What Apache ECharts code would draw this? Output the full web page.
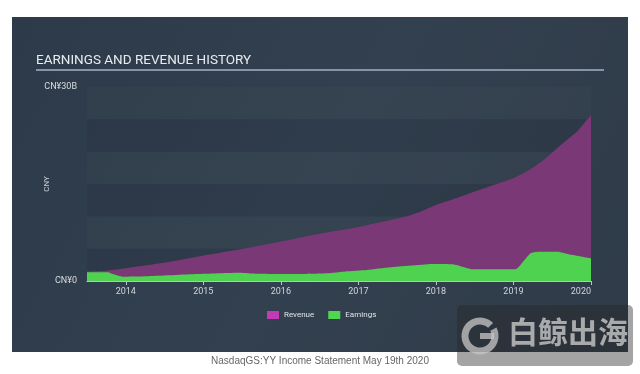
<!DOCTYPE html>
<html>
<head>
<meta charset="utf-8">
<script src="https://cdn.jsdelivr.net/npm/echarts@6/dist/echarts.min.js"></script>
<style>
html,body{margin:0;padding:0;background:#fff;}
#chart{width:640px;height:374px;}
</style>
</head>
<body>
<div id="chart"></div>
<script>
// Revenue (CNY billions) at decimal-year positions
var revenueYears = [2013.5, 2013.75, 2014.0, 2014.49, 2014.99, 2015.5, 2015.99, 2016.49, 2017.0, 2017.6, 2017.8, 2018.0, 2018.22, 2018.66, 2019.0, 2019.22, 2019.39, 2019.61, 2019.83, 2020.0];
var revenueValues = [1.47, 1.59, 1.98, 2.81, 3.91, 4.95, 6.08, 7.27, 8.35, 9.94, 10.72, 11.75, 12.63, 14.49, 15.88, 17.27, 18.71, 21.03, 23.24, 25.67];
// Earnings (CNY billions)
var earningsYears = [2013.5, 2013.77, 2013.83, 2013.96, 2014.27, 2014.92, 2015.47, 2015.69, 2016.25, 2016.6, 2016.83, 2017.11, 2017.41, 2017.97, 2018.22, 2018.34, 2018.47, 2019.03, 2019.09, 2019.22, 2019.32, 2019.57, 2019.7, 2020.0];
var earningsValues = [1.35, 1.35, 1.08, 0.66, 0.73, 1.08, 1.28, 1.13, 1.08, 1.19, 1.47, 1.70, 2.12, 2.63, 2.58, 2.21, 1.81, 1.81, 2.47, 4.28, 4.53, 4.53, 4.18, 3.51];
var yearTicks = [2014, 2015, 2016, 2017, 2018, 2019, 2020];
var yTickLabels = {0: 'CN¥0', 30: 'CN¥30B'};

function pairs(xs, ys){ return xs.map(function(x,i){ return [x, ys[i]]; }); }

var chart = echarts.init(document.getElementById('chart'), null, {renderer:'canvas'});
var option = {
  animation: false,
  textStyle: {fontFamily: 'Roboto'},
  graphic: [
    {type:'rect', z:-10, shape:{x:12,y:17,width:616,height:335},
     style:{fill:{type:'linear',x:0,y:0,x2:1,y2:1,colorStops:[{offset:0,color:'#2d3a49'},{offset:0.5,color:'#33404f'},{offset:1,color:'#2f3b48'}]}}},
    {type:'text', left:36, top:54, style:{text:'EARNINGS AND REVENUE HISTORY', fill:'#e8ecf0', font:'13.5px Roboto'}},
    {type:'rect', shape:{x:36,y:69,width:568,height:2}, style:{fill:'#8595a8'}},
    {type:'text', left:'center', top:356, style:{text:'NasdaqGS:YY Income Statement May 19th 2020', fill:'#666', font:'10px "Liberation Sans"'}},
    {type:'group', z:100, children:[
      {type:'rect', shape:{x:457,y:305,width:176,height:61,r:5}, style:{fill:'rgba(37,37,37,0.42)'}},
      {type:'arc', shape:{cx:480,cy:336,r:15,startAngle:-Math.PI*0.15,endAngle:Math.PI*1.75}, style:{stroke:'rgba(200,200,200,0.75)', lineWidth:7, fill:null}},
      {type:'rect', shape:{x:480,y:333,width:14,height:6}, style:{fill:'rgba(200,200,200,0.75)'}},
      {type:'text', left:508, top:317, style:{text:'白鲸出海', fill:'rgba(200,200,200,0.8)', font:'bold 30px "Noto Sans CJK SC"'}}
    ]}
  ],
  grid: {left:87, right:49, top:87, bottom:93},
  legend: {
    left: 262, top: 306,
    icon: 'rect', itemWidth: 12, itemHeight: 8, itemGap: 14, itemTextGap: 3,
    textStyle: {color:'#dfe3e8', fontSize: 8, fontFamily:'Roboto'},
    data: [
      {name:'Revenue', itemStyle:{color:'#c23bb5'}},
      {name:'Earnings', itemStyle:{color:'#4fd84f'}}
    ]
  },
  xAxis: {
    type:'value', min:2013.5, max:2020,
    splitLine:{show:false},
    axisLine:{show:true, lineStyle:{color:'#b8c0c8', width:1}},
    axisTick:{show:true, customValues: yearTicks, length:4, lineStyle:{color:'#b8c0c8'}},
    axisLabel:{customValues: yearTicks, color:'#d0d6dc', fontSize:9, margin:6, alignMaxLabel:'right',
      formatter: function(v){ return String(Math.round(v)); }}
  },
  yAxis: {
    type:'value', min:0, max:30, interval:5,
    name:'CNY', nameLocation:'middle', nameGap:36, nameRotate:90, nameMoveOverlap:false,
    nameTextStyle:{color:'#d0d6dc', fontSize:8},
    axisLine:{show:false}, axisTick:{show:false},
    splitLine:{show:false},
    splitArea:{show:true, areaStyle:{color:['rgba(20,28,38,0.10)','rgba(255,255,255,0.015)']}},
    axisLabel:{color:'#d8dde2', fontSize:9, margin:10, formatter:function(v){ return yTickLabels[v] || ''; }}
  },
  series: [
    {name:'Revenue', type:'line', data: pairs(revenueYears, revenueValues), symbol:'none', smooth:0.15,
     lineStyle:{width:0}, itemStyle:{color:'#c23bb5'}, areaStyle:{color:'#7b3877', opacity:1}},
    {name:'Earnings', type:'line', data: pairs(earningsYears, earningsValues), symbol:'none', smooth:0.15,
     lineStyle:{width:0}, itemStyle:{color:'#4fd84f'}, areaStyle:{color:'#4fd24f', opacity:1}}
  ]
};
chart.setOption(option);
</script>
</body>
</html>
